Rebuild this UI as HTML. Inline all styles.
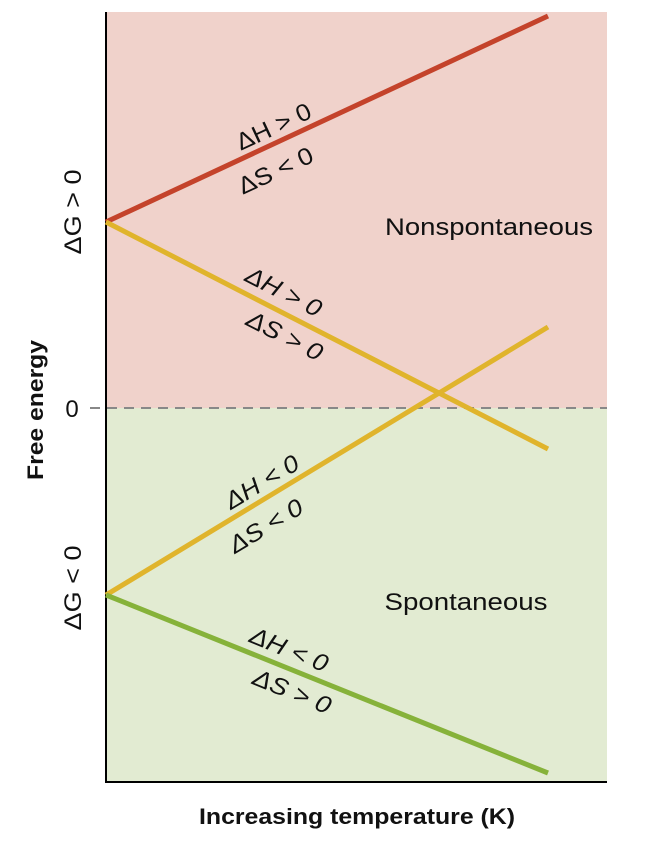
<!DOCTYPE html>
<html><head><style>body{margin:0;background:#fff}svg{display:block}</style></head><body>
<svg width="650" height="850" viewBox="0 0 650 850" xmlns="http://www.w3.org/2000/svg" font-family="Liberation Sans, sans-serif">
<rect x="106" y="12" width="501" height="396" fill="#f0d2cb"/>
<rect x="106" y="408" width="501" height="374" fill="#e2ebd2"/>
<line x1="90" y1="408" x2="607" y2="408" stroke="#888" stroke-width="2" stroke-dasharray="10,7"/>
<line x1="106" y1="12" x2="106" y2="783" stroke="#000" stroke-width="2"/>
<line x1="105" y1="782" x2="607" y2="782" stroke="#000" stroke-width="2"/>
<g stroke-width="5" stroke-linecap="butt" fill="none">
<line x1="106" y1="222" x2="548" y2="16" stroke="#c4432b"/>
<line x1="106" y1="222" x2="548" y2="449" stroke="#e0b42c"/>
<line x1="106" y1="595" x2="548" y2="327" stroke="#e0b42c"/>
<line x1="106" y1="595" x2="548" y2="773" stroke="#86b23a"/>
</g>
<g font-size="24" fill="#111" text-anchor="middle">
<text transform="translate(277,134) rotate(-25)" textLength="80" lengthAdjust="spacingAndGlyphs">ΔH &gt; 0</text>
<text transform="translate(279,178) rotate(-25)" textLength="80" lengthAdjust="spacingAndGlyphs">ΔS &lt; 0</text>
<text transform="translate(280,299) rotate(27)" font-style="italic" textLength="82" lengthAdjust="spacingAndGlyphs">ΔH &gt; 0</text>
<text transform="translate(281,343) rotate(27)" font-style="italic" textLength="82" lengthAdjust="spacingAndGlyphs">ΔS &gt; 0</text>
<text transform="translate(266,489) rotate(-31)" font-style="italic" textLength="82" lengthAdjust="spacingAndGlyphs">ΔH &lt; 0</text>
<text transform="translate(270,533) rotate(-31)" font-style="italic" textLength="82" lengthAdjust="spacingAndGlyphs">ΔS &lt; 0</text>
<text transform="translate(286,657) rotate(22)" font-style="italic" textLength="82" lengthAdjust="spacingAndGlyphs">ΔH &lt; 0</text>
<text transform="translate(289,699) rotate(22)" font-style="italic" textLength="82" lengthAdjust="spacingAndGlyphs">ΔS &gt; 0</text>
<text x="489" y="235" textLength="208" lengthAdjust="spacingAndGlyphs">Nonspontaneous</text>
<text x="466" y="610" textLength="163" lengthAdjust="spacingAndGlyphs">Spontaneous</text>
<text x="72" y="417">0</text>
<text transform="translate(81,212) rotate(-90)" textLength="85" lengthAdjust="spacingAndGlyphs">ΔG &gt; 0</text>
<text transform="translate(81,588) rotate(-90)" textLength="85" lengthAdjust="spacingAndGlyphs">ΔG &lt; 0</text>
<text transform="translate(43,410) rotate(-90)" font-size="22" font-weight="bold" textLength="140" lengthAdjust="spacingAndGlyphs">Free energy</text>
<text x="357" y="824" font-size="22" font-weight="bold" textLength="316" lengthAdjust="spacingAndGlyphs">Increasing temperature (K)</text>
</g>
</svg>
</body></html>
